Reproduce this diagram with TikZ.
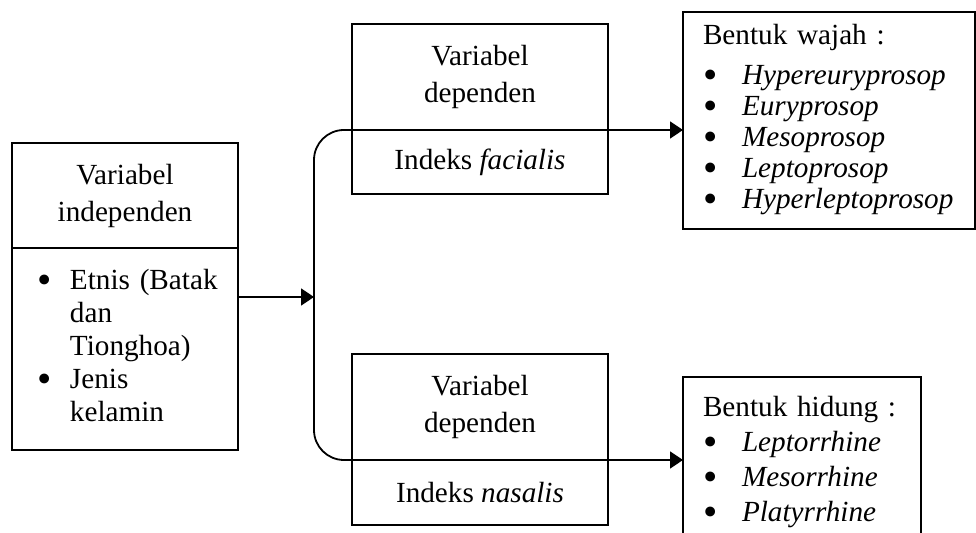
\documentclass[tikz,border=0pt]{standalone}
\usepackage{fontspec}
\setmainfont{Liberation Serif}
\usetikzlibrary{arrows.meta,positioning}

\tikzset{
  box/.style={draw, line width=0.9pt, inner sep=0pt, outer sep=0pt, align=center},
  arr/.style={line width=0.9pt, -{Triangle[length=6.5pt,width=8.5pt]}},
  every node/.style={font=\fontsize{14.6}{18.5}\selectfont}
}
\newcommand{\bul}{\raisebox{-0.12em}{\scalebox{1.4}{\textbullet}}}

\begin{document}
\begin{tikzpicture}[x=0.5pt,y=-0.5pt]
\useasboundingbox (0,0) rectangle (976,533);
\clip (0,0) rectangle (976,533);

\node[box, minimum width=113pt, minimum height=52.5pt] (indeptop) at (125,195.5) {Variabel\\independen};
\node[box, below=0pt of indeptop, inner xsep=13pt, text width=87pt, minimum height=101pt, align=left,
      font=\fontsize{14.6}{16.5}\selectfont] (indepbot)
  {\begin{tabular}{@{}p{16pt}@{}l@{}}
    \bul & Etnis (Batak\\
         & dan\\
         & Tionghoa)\\
    \bul & Jenis\\
         & kelamin
  \end{tabular}};

\node[box, minimum width=128pt, minimum height=53pt] (depAtop) at (480,77) {Variabel\\dependen};
\node[box, below=0pt of depAtop, minimum width=128pt, minimum height=32pt] (depAbot) {Indeks \textit{facialis}};

\node[box, minimum width=128pt, minimum height=53pt] (depBtop) at (480,407) {Variabel\\dependen};
\node[box, below=0pt of depBtop, minimum width=128pt, minimum height=32.5pt] (depBbot) {Indeks \textit{nasalis}};

\node[box, anchor=north west, inner xsep=10pt, text width=126pt, minimum height=108.5pt, align=left,
      font=\fontsize{14.6}{15.5}\selectfont] (wajah) at (683,12)
  {\begin{tabular}{@{}p{19.5pt}@{}l@{}}
    \multicolumn{2}{@{}l@{}}{Bentuk wajah :}\\[4.5pt]
    \bul & \textit{Hypereuryprosop}\\
    \bul & \textit{Euryprosop}\\
    \bul & \textit{Mesoprosop}\\
    \bul & \textit{Leptoprosop}\\
    \bul & \textit{Hyperleptoprosop}
  \end{tabular}};

\node[box, anchor=north west, inner xsep=10pt, inner ysep=7.75pt, text width=99pt, align=left,
      font=\fontsize{14.6}{17.5}\selectfont] (hidung) at (683,377)
  {\begin{tabular}{@{}p{19.5pt}@{}l@{}}
    \multicolumn{2}{@{}l@{}}{Bentuk hidung :}\\
    \bul & \textit{Leptorrhine}\\
    \bul & \textit{Mesorrhine}\\
    \bul & \textit{Platyrrhine}
  \end{tabular}};

\coordinate (split) at (314,297);
\draw[arr] (indepbot.east |- split) -- (split);
\draw[arr, rounded corners=15pt] (split) |- (wajah.west |- depAbot.north);
\draw[arr, rounded corners=15pt] (split) |- (hidung.west |- depBbot.north);
\end{tikzpicture}
\end{document}
